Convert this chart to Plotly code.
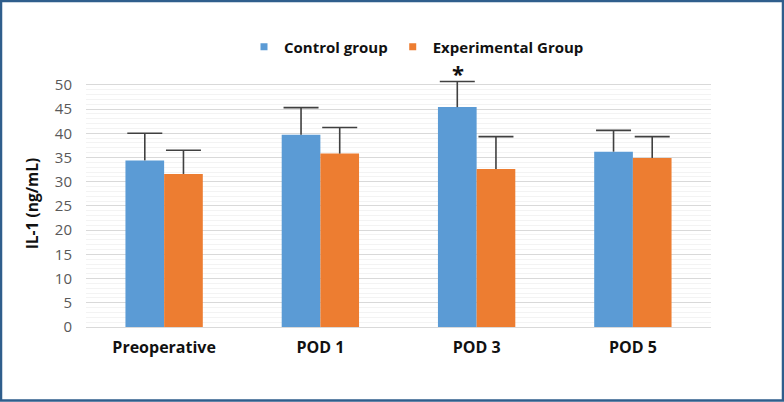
import plotly.graph_objects as go

categories = ["Preoperative", "POD 1", "POD 3", "POD 5"]
control_mean = [34.4, 39.7, 45.4, 36.2]
control_sd = [5.6, 5.6, 5.3, 4.4]
exp_mean = [31.6, 35.8, 32.6, 34.9]
exp_sd = [4.9, 5.4, 6.7, 4.4]
y_ticks = [0, 5, 10, 15, 20, 25, 30, 35, 40, 45, 50]
series_names = ["Control group", "Experimental Group"]
series_colors = ["#5B9BD5", "#ED7D31"]
groups = ["ctrl", "exp"]

FONT = "Open Sans, sans-serif"
ERR = "#404040"

fig = go.Figure()
for name, mean, sd, col, g in zip(series_names, [control_mean, exp_mean],
                                  [control_sd, exp_sd], series_colors, groups):
    fig.add_trace(go.Bar(
        name=name, x=categories, y=mean, showlegend=False,
        offsetgroup=g,
        marker=dict(color=col, line=dict(width=0)),
        error_y=dict(type="data", array=sd, symmetric=False,
                     color=ERR, thickness=1.6, width=0),
        cliponaxis=False,
    ))
# caps at the top of the (upper-only) error bars
for mean, sd, g in zip([control_mean, exp_mean], [control_sd, exp_sd], groups):
    fig.add_trace(go.Scatter(
        x=categories, y=[m + s for m, s in zip(mean, sd)], mode="markers",
        offsetgroup=g, showlegend=False, hoverinfo="skip", cliponaxis=False,
        marker=dict(symbol="line-ew", size=25, color=ERR,
                    line=dict(color=ERR, width=1.6)),
    ))
# legend entries with small square swatches
for name, col in zip(series_names, series_colors):
    fig.add_trace(go.Scatter(
        name=name, x=[None], y=[None], mode="markers",
        marker=dict(symbol="square", size=7, color=col),
        showlegend=True,
    ))

# significance marker above POD 3 control bar
fig.add_annotation(x=categories[2], y=control_mean[2] + control_sd[2],
                   text="<b>*</b>", showarrow=False, xshift=-19, yshift=8,
                   font=dict(size=22, color="#111111", family=FONT))

# outer border
L, R, T, B = 86, 73, 80, 75
W, H = 784, 402
pw, ph = W - L - R, H - T - B
def px(x): return (x - L) / pw
def py(y): return (H - B - y) / ph
fig.add_shape(type="rect", xref="paper", yref="paper",
              x0=px(1), x1=px(783), y0=py(1), y1=py(400.5),
              line=dict(color="#2F5E8C", width=2.5), layer="above")

fig.update_layout(
    width=W, height=H,
    margin=dict(l=L, r=R, t=T, b=B),
    paper_bgcolor="white", plot_bgcolor="white",
    barmode="group", bargap=0.505, bargroupgap=0,
    scattermode="group", scattergap=0.505,
    showlegend=True,
    legend=dict(orientation="h", x=px(244), xanchor="left", y=py(47), yanchor="middle",
                font=dict(family=FONT, size=15, color="#111111", weight="bold"),
                itemwidth=30, traceorder="normal"),
    font=dict(family=FONT, color="#595959"),
    xaxis=dict(showgrid=False, showline=True, linecolor="#d9d9d9", linewidth=1,
               ticks="", tickfont=dict(family=FONT, size=16, color="#111111", weight="bold"),
               ticklabelstandoff=6),
    yaxis=dict(range=[0, 51], tickvals=y_ticks, ticktext=[str(v) for v in y_ticks],
               showgrid=True, gridcolor="#d9d9d9", gridwidth=1,
               minor=dict(dtick=1, showgrid=True, gridcolor="#f3f3f3", gridwidth=1),
               zeroline=False, showline=False, ticks="",
               ticklabelstandoff=13,
               tickfont=dict(family=FONT, size=15, color="#595959"),
               title=dict(text="<b>IL-1 (ng/mL)</b>", standoff=12,
                          font=dict(family=FONT, size=15.5, color="#111111"))),
)

fig.write_html("out.html")
